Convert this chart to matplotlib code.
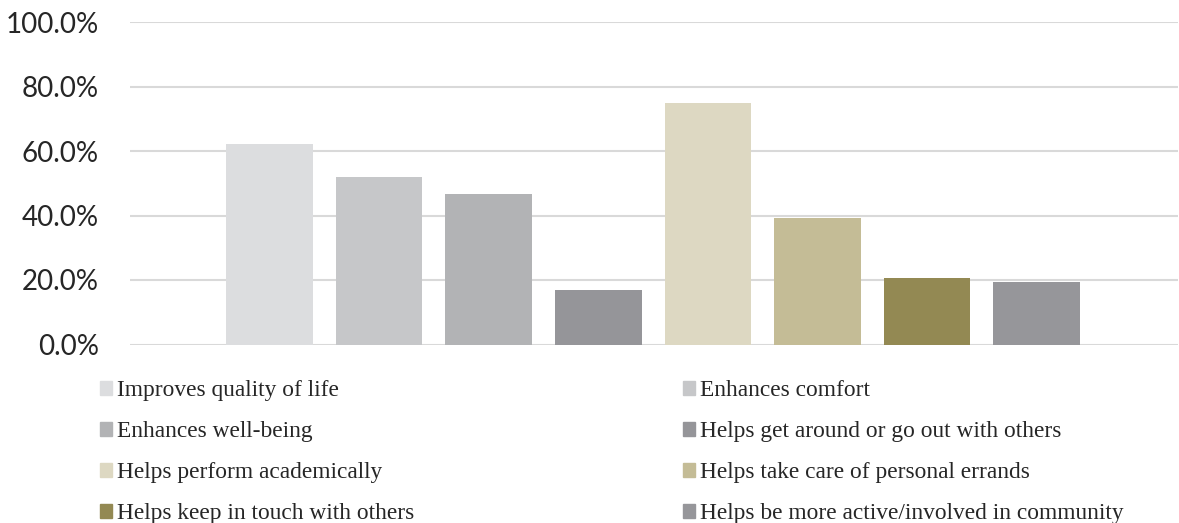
import numpy as np
import matplotlib
matplotlib.use("Agg")
import matplotlib.pyplot as plt
from matplotlib.patches import Patch
from matplotlib.ticker import FuncFormatter

# data
labels = ["Improves quality of life", "Enhances comfort", "Enhances well-being",
          "Helps get around or go out with others", "Helps perform academically",
          "Helps take care of personal errands", "Helps keep in touch with others",
          "Helps be more active/involved in community"]
values = [62.2, 51.9, 46.7, 16.9, 74.9, 39.2, 20.6, 19.4]
colors = ["#dcdddf", "#c6c7c9", "#b2b3b5", "#959599",
          "#ddd8c2", "#c4bc96", "#938953", "#96969a"]
yticks = [0, 20, 40, 60, 80, 100]

W, H = 1179, 523
fig = plt.figure(figsize=(W / 100, H / 100), dpi=100)
ax = fig.add_axes([130 / W, 178.5 / H, 1048 / W, 322.5 / H])

x = np.arange(len(values))
ax.bar(x, values, width=0.79, color=colors, zorder=3)

ax.set_ylim(0, 100)
ax.set_xlim(-1.273, 8.29)
ax.set_yticks(yticks)
ax.yaxis.set_major_formatter(FuncFormatter(lambda v, p: f"{v:.1f}%"))
ax.set_xticks([])
ax.grid(axis="y", color="#d9d9d9", linewidth=1.5, zorder=0)
for s in ax.spines.values():
    s.set_visible(False)
ax.tick_params(axis="y", length=0, pad=22.5, labelsize=20, labelcolor="#262626")
for t in ax.get_yticklabels():
    t.set_fontfamily("Lato")

handles = [Patch(color=c, label=l) for c, l in zip(colors, labels)]
kw = dict(frameon=False, ncol=1, prop={"family": "Liberation Serif", "size": 16.8},
          handlelength=0.52, handleheight=0.52, handletextpad=0.21,
          labelspacing=0.86, borderpad=0, borderaxespad=0, labelcolor="#262626")
leg1 = fig.legend(handles=handles[0::2], loc="upper left",
                  bbox_to_anchor=(100 / W, 1 - 380 / H), **kw)
leg2 = fig.legend(handles=handles[1::2], loc="upper left",
                  bbox_to_anchor=(683 / W, 1 - 380 / H), **kw)

fig.savefig("out.png", dpi=100, facecolor="white")
